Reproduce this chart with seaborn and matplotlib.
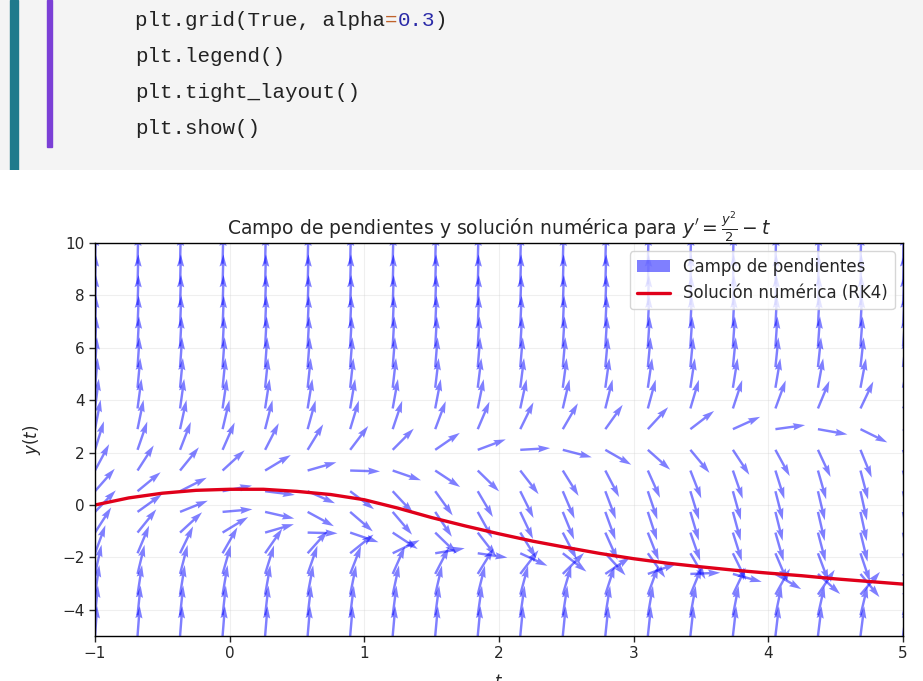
import numpy as np
import seaborn as sns
import matplotlib
matplotlib.use('Agg')
import matplotlib.pyplot as plt
from matplotlib.patches import Rectangle

# Code lines shown in the notebook cell above the chart
code_lines = ['plt.grid(True, alpha', 'plt.legend()', 'plt.tight_layout()', 'plt.show()']

# Slope field grid (t, y) and the ODE y' = y^2/2 - t from the title
t_grid = np.linspace(-1, 5, 20)
y_grid = np.linspace(-5, 10, 20)

# RK4 solution
sol_t = [-1.0, -0.75, -0.5, -0.25, 0.0, 0.25, 0.5, 0.75, 1.0, 1.25, 1.5, 1.75, 2.0, 2.25,
         2.5, 2.75, 3.0, 3.25, 3.5, 3.75, 4.0, 4.25, 4.5, 4.75, 5.0]
sol_y = [0.0, 0.27, 0.45, 0.56, 0.6, 0.6, 0.52, 0.4, 0.2, -0.12, -0.48, -0.8, -1.1, -1.38,
         -1.62, -1.85, -2.05, -2.22, -2.36, -2.49, -2.6, -2.7, -2.82, -2.92, -3.02]

sns.set_style('white')
fig = plt.figure(figsize=(9.23, 6.81), dpi=100)

# ------------------------------
# Notebook code cell
# ------------------------------
bg = fig.add_axes([0, 1 - 170 / 681, 1, 170 / 681])
bg.set_xlim(0, 923)
bg.set_ylim(170, 0)
bg.axis('off')
bg.add_patch(Rectangle((0, 0), 923, 170, color='#f4f4f4'))
bg.add_patch(Rectangle((10, 0), 8, 170, color='#1f7a8c'))
bg.add_patch(Rectangle((47, 0), 5, 147, color='#7b3fd6'))
mono = dict(family='Liberation Mono', fontsize=15, va='center', ha='left')
for i, line in enumerate(code_lines):
    t = bg.text(135, 20 + i * 36, line, color='#222222', **mono)
    if i == 0:
        # coloured pieces of the first line
        t2 = bg.annotate('=', xycoords=t, xy=(1, 0.5), va='center', ha='left',
                         color='#c0622b', family='Liberation Mono', fontsize=15)
        t3 = bg.annotate('0.3', xycoords=t2, xy=(1, 0.5), va='center', ha='left',
                         color='#2a2aa8', family='Liberation Mono', fontsize=15)
        bg.annotate(')', xycoords=t3, xy=(1, 0.5), va='center', ha='left',
                    color='#222222', family='Liberation Mono', fontsize=15)

# ------------------------------
# Slope field plot
# ------------------------------
ax = fig.add_axes([95 / 923, 45 / 681, 808 / 923, 393 / 681])
T, Y = np.meshgrid(t_grid, y_grid)
dY = Y ** 2 / 2 - T
N = np.sqrt(1 + dY ** 2)
ax.quiver(T, Y, 1 / N, dY / N, color='blue', alpha=0.5, scale=27, scale_units='width',
          width=0.003, label='Campo de pendientes')
sns.lineplot(x=sol_t, y=sol_y, ax=ax, color='#e0001a', linewidth=2.4,
             label='Solución numérica (RK4)')

ax.set_xlim(-1, 5)
ax.set_ylim(-5, 10)
ax.set_xticks(range(-1, 6))
ax.set_yticks(range(-4, 11, 2))
ax.grid(True, alpha=0.3)
for s in ax.spines.values():
    s.set_color('black')
    s.set_linewidth(1)
ax.tick_params(axis='both', length=4, width=1, labelsize=11, left=True, bottom=True)
ax.set_title(r"Campo de pendientes y solución numérica para $y' = \frac{y^2}{2} - t$", fontsize=13.5)
ax.set_xlabel(r'$t$', fontsize=12, labelpad=8)
ax.set_ylabel(r'$y(t)$', fontsize=12, labelpad=14)
ax.legend(loc='upper right', fontsize=12, framealpha=0.8)

fig.savefig('out.png', dpi=100)
